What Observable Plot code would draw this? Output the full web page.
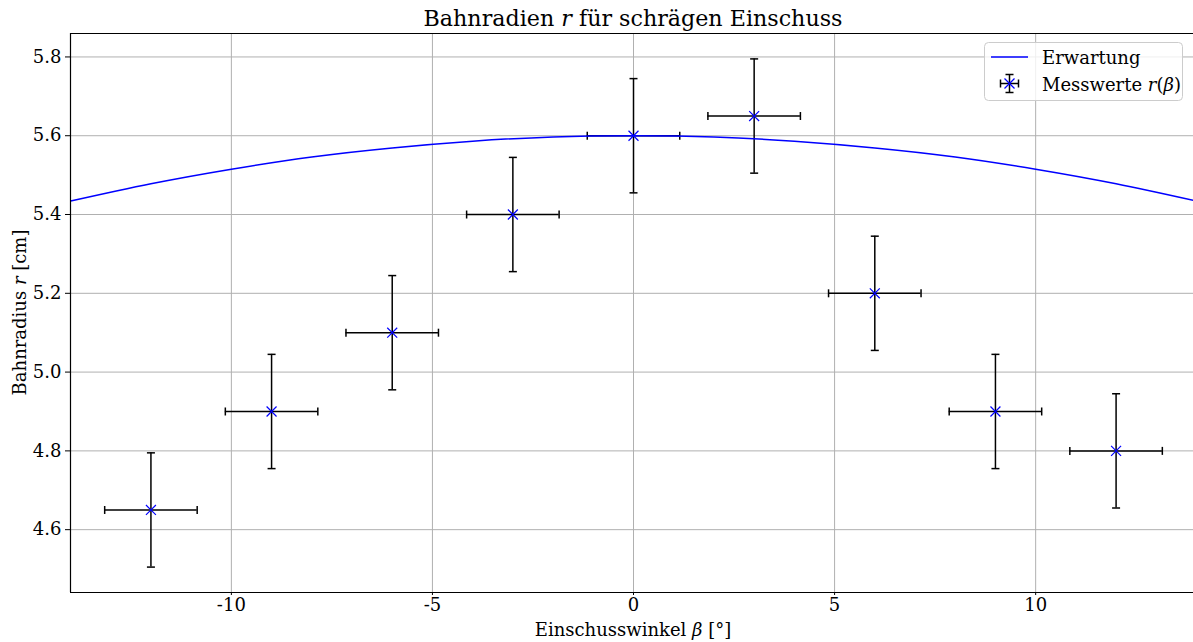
<!DOCTYPE html>
<html>
<head>
<meta charset="utf-8">
<script src="https://cdn.jsdelivr.net/npm/d3@7"></script>
<script src="https://cdn.jsdelivr.net/npm/@observablehq/plot@0.6"></script>
<style>
  html, body { margin: 0; padding: 0; background: #fff; }
  #chart svg { display: block; font-family: "DejaVu Serif", serif; }
</style>
</head>
<body>
<div id="chart"></div>
<script>
// ---- data ----
const curveBeta = [-14, -12, -10, -8, -6, -4, -2, 0, 2, 4, 6, 8, 10, 12, 14];
const curveR    = [5.434, 5.478, 5.515, 5.546, 5.569, 5.586, 5.597, 5.600, 5.597, 5.586, 5.569, 5.546, 5.515, 5.478, 5.434];

const measBeta    = [-12, -9, -6, -3, 0, 3, 6, 9, 12];
const measR       = [4.65, 4.90, 5.10, 5.40, 5.60, 5.65, 5.20, 4.90, 4.80];
const measBetaErr = [1.15, 1.15, 1.15, 1.15, 1.15, 1.15, 1.15, 1.15, 1.15];
const measRErr    = [0.145, 0.145, 0.145, 0.145, 0.145, 0.145, 0.145, 0.145, 0.145];

const xTicks = [-10, -5, 0, 5, 10];
const yTicks = [4.6, 4.8, 5.0, 5.2, 5.4, 5.6, 5.8];

const legendLine = "Erwartung";

// ---- tables ----
const curve = curveBeta.map((b, i) => ({beta: b, r: curveR[i]}));
const meas = measBeta.map((b, i) => ({
  beta: b, r: measR[i],
  b1: b - measBetaErr[i], b2: b + measBetaErr[i],
  r1: measR[i] - measRErr[i], r2: measR[i] + measRErr[i]
}));

const W = 1193, H = 642;
const mL = 70, mR = 0, mT = 33, mB = 50;

const hCap = {draw(ctx, size) { const r = Math.sqrt(size / Math.PI); ctx.moveTo(-r, 0); ctx.lineTo(r, 0); }};
const vCap = {draw(ctx, size) { const r = Math.sqrt(size / Math.PI); ctx.moveTo(0, -r); ctx.lineTo(0, r); }};

const gridColor = "#b0b0b0";
const plot = Plot.plot({
  width: W, height: H,
  marginLeft: mL, marginRight: mR, marginTop: mT, marginBottom: mB,
  style: {fontFamily: "DejaVu Serif, serif", fontSize: "18px", color: "#000", background: "#fff"},
  x: {domain: [-14, 13.925], label: null},
  y: {domain: [4.4405, 5.8595], label: null},
  marks: [
    Plot.gridX(xTicks, {stroke: gridColor, strokeOpacity: 1, strokeWidth: 1}),
    Plot.gridY(yTicks, {stroke: gridColor, strokeOpacity: 1, strokeWidth: 1}),
    Plot.axisX(xTicks, {tickSize: 3, tickPadding: 3, fontSize: 18, tickFormat: d => String(d), stroke: "#000", color: "#000"}),
    Plot.axisY(yTicks, {tickSize: 5, tickPadding: 4, fontSize: 18, tickFormat: d => d.toFixed(1), stroke: "#000", color: "#000"}),
    // error bars
    Plot.ruleY(meas, {y: "r", x1: "b1", x2: "b2", stroke: "#000", strokeWidth: 1.5}),
    Plot.ruleX(meas, {x: "beta", y1: "r1", y2: "r2", stroke: "#000", strokeWidth: 1.5}),
    Plot.dot(meas, {x: "b1", y: "r", symbol: vCap, r: 4, stroke: "#000", strokeWidth: 1.5}),
    Plot.dot(meas, {x: "b2", y: "r", symbol: vCap, r: 4, stroke: "#000", strokeWidth: 1.5}),
    Plot.dot(meas, {x: "beta", y: "r1", symbol: hCap, r: 4, stroke: "#000", strokeWidth: 1.5}),
    Plot.dot(meas, {x: "beta", y: "r2", symbol: hCap, r: 4, stroke: "#000", strokeWidth: 1.5}),
    // expected curve
    Plot.line(curve, {x: "beta", y: "r", stroke: "#0000ff", strokeWidth: 1.5, curve: "natural", clip: true}),
    // markers
    Plot.dot(meas, {x: "beta", y: "r", symbol: "times", r: 4.6, stroke: "#0000ff", strokeWidth: 1.2}),
    // spines (left, top, bottom)
    Plot.ruleX([-14], {stroke: "#000", strokeWidth: 1.2}),
    Plot.ruleY([4.4405, 5.8595], {stroke: "#000", strokeWidth: 1.2})
  ]
});

document.getElementById("chart").appendChild(plot);
const svg = d3.select(plot);
const xs = plot.scale("x");
const ff = "DejaVu Serif, serif";

// title
const t = svg.append("text").attr("x", xs.apply(0)).attr("y", 26)
  .attr("text-anchor", "middle").attr("font-family", ff).attr("font-size", 22.2).attr("fill", "#000");
t.append("tspan").text("Bahnradien ");
t.append("tspan").attr("font-style", "italic").text("r");
t.append("tspan").text(" für schrägen Einschuss");

// x label
const xl = svg.append("text").attr("x", xs.apply(0)).attr("y", 636)
  .attr("text-anchor", "middle").attr("font-family", ff).attr("font-size", 18).attr("fill", "#000");
xl.append("tspan").text("Einschusswinkel ");
xl.append("tspan").attr("font-style", "italic").text("β");
xl.append("tspan").text(" [°]");

// y label
const yc = (mT + (H - mB)) / 2;
const yl = svg.append("text").attr("transform", `translate(26,${yc}) rotate(-90)`)
  .attr("text-anchor", "middle").attr("font-family", ff).attr("font-size", 18).attr("fill", "#000");
yl.append("tspan").text("Bahnradius ");
yl.append("tspan").attr("font-style", "italic").text("r");
yl.append("tspan").text(" [cm]");

// legend
const lg = svg.append("g").attr("text-anchor", "start");
lg.append("rect").attr("x", 984.5).attr("y", 42.5).attr("width", 198).attr("height", 58)
  .attr("rx", 4).attr("fill", "#fff").attr("fill-opacity", 0.8).attr("stroke", "#cccccc").attr("stroke-width", 1);
lg.append("line").attr("x1", 991).attr("x2", 1028).attr("y1", 57).attr("y2", 57)
  .attr("stroke", "#0000ff").attr("stroke-width", 1.5);
lg.append("text").attr("x", 1042).attr("y", 63.5).attr("text-anchor", "start").attr("font-family", ff).attr("font-size", 18).attr("fill", "#000").text(legendLine);
const ix = 1009.5, iy = 83.5;
const seg = (x1, y1, x2, y2, c, w) => lg.append("line").attr("x1", x1).attr("y1", y1).attr("x2", x2).attr("y2", y2).attr("stroke", c).attr("stroke-width", w);
seg(ix - 9, iy, ix + 9, iy, "#000", 1.5);
seg(ix, iy - 9, ix, iy + 9, "#000", 1.5);
seg(ix - 9, iy - 4, ix - 9, iy + 4, "#000", 1.5);
seg(ix + 9, iy - 4, ix + 9, iy + 4, "#000", 1.5);
seg(ix - 4, iy - 9, ix + 4, iy - 9, "#000", 1.5);
seg(ix - 4, iy + 9, ix + 4, iy + 9, "#000", 1.5);
seg(ix - 5, iy - 5, ix + 5, iy + 5, "#0000ff", 1.2);
seg(ix - 5, iy + 5, ix + 5, iy - 5, "#0000ff", 1.2);
const lm = lg.append("text").attr("x", 1042).attr("y", 90.5).attr("text-anchor", "start").attr("font-family", ff).attr("font-size", 18).attr("fill", "#000");
lm.append("tspan").text("Messwerte ");
lm.append("tspan").attr("font-style", "italic").text("r");
lm.append("tspan").text("(");
lm.append("tspan").attr("font-style", "italic").text("β");
lm.append("tspan").text(")");
</script>
</body>
</html>
